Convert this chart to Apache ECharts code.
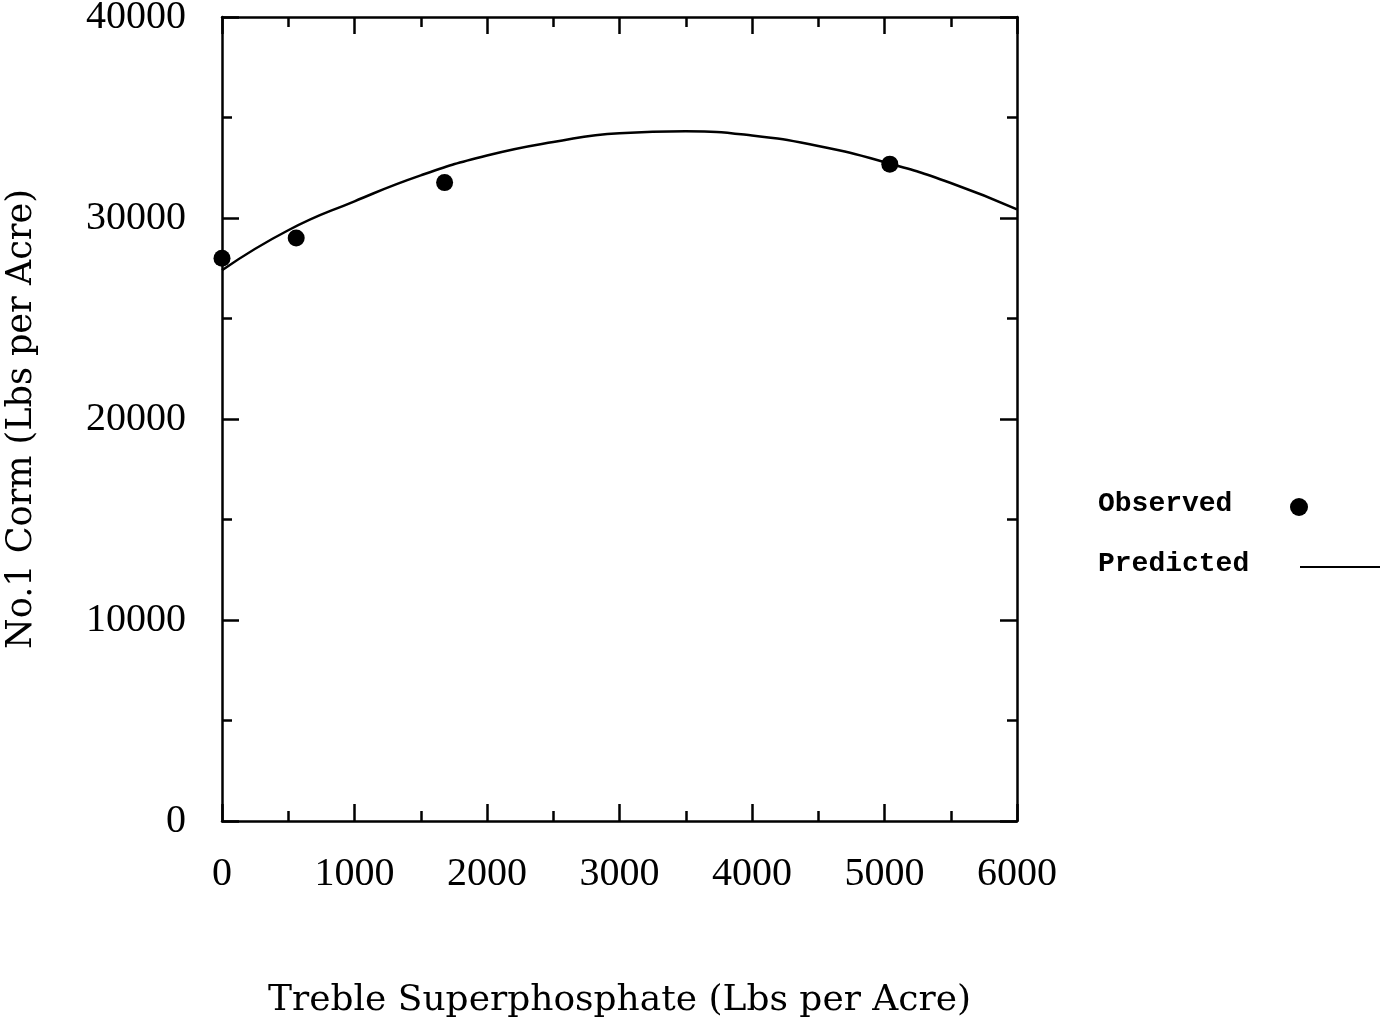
<!DOCTYPE html>
<html>
<head>
<meta charset="utf-8">
<script src="https://cdn.jsdelivr.net/npm/echarts@6/dist/echarts.min.js"></script>
<style>
  html, body { margin: 0; padding: 0; background: #fff; }
  #chart { width: 1383px; height: 1022px; }
</style>
</head>
<body>
<div id="chart"></div>
<script>
  // observed points
  var obsX = [0, 560, 1680, 5040];
  var obsY = [28000, 29000, 31760, 32680];
  var predX = [0, 500, 1000, 1500, 2000, 2500, 3000, 3500, 4000, 4500, 5000, 5500, 6000];
  var predY = [27400, 29390, 30830, 32120, 33110, 33780, 34220, 34310, 34110, 33580, 32780, 31740, 30430];

  var serif = 'Liberation Serif';
  var titleFont = 'DejaVu Serif';
  var mono = 'Liberation Mono';

  var obsData = obsX.map(function (x, i) { return [x, obsY[i]]; });
  var predData = predX.map(function (x, i) { return [x, predY[i]]; });

  var chart = echarts.init(document.getElementById('chart'));

  var lineStyle = {color: '#000', width: 2.5};
  function boxAxis(pos, show) {
    return {
      type: 'value',
      position: pos,
      axisLine: {show: true, onZero: false, lineStyle: lineStyle},
      axisTick: {show: true, inside: true, length: 17, lineStyle: {color: '#000', width: 2.5}},
      minorTick: {show: true, splitNumber: 2, length: 10, lineStyle: {color: '#000', width: 2.5}},
      splitLine: {show: false},
      axisLabel: {show: show, color: '#000', fontFamily: serif, fontSize: 40,
        formatter: function (v) { return String(v); }}
    };
  }

  var xBottom = boxAxis('bottom', true);
  xBottom.min = 0; xBottom.max = 6000; xBottom.interval = 1000;
  xBottom.axisLabel.margin = 33;
  xBottom.name = 'Treble Superphosphate (Lbs per Acre)';
  xBottom.nameLocation = 'middle';
  xBottom.nameGap = 162;
  xBottom.nameTextStyle = {color: '#000', fontFamily: titleFont, fontSize: 36};

  var xTop = boxAxis('top', false);
  xTop.min = 0; xTop.max = 6000; xTop.interval = 1000;

  var yLeft = boxAxis('left', true);
  yLeft.min = 0; yLeft.max = 40000; yLeft.interval = 10000;
  yLeft.axisLabel.margin = 36;
  yLeft.name = 'No.1 Corm (Lbs per Acre)';
  yLeft.nameLocation = 'middle';
  yLeft.nameRotate = 90;
  yLeft.nameGap = 183;
  yLeft.nameTextStyle = {color: '#000', fontFamily: titleFont, fontSize: 35};

  var yRight = boxAxis('right', false);
  yRight.min = 0; yRight.max = 40000; yRight.interval = 10000;

  chart.setOption({
    animation: false,
    backgroundColor: '#fff',
    grid: {left: 222, top: 17, right: 366, bottom: 201, containLabel: false, outerBoundsMode: 'none'},
    xAxis: [xBottom, xTop],
    yAxis: [yLeft, yRight],
    series: [
      {
        name: 'Predicted',
        type: 'line',
        data: predData,
        smooth: true,
        showSymbol: false,
        lineStyle: {color: '#000', width: 2.5}
      },
      {
        name: 'Observed',
        type: 'scatter',
        data: obsData,
        symbol: 'circle',
        symbolSize: 17,
        itemStyle: {color: '#000', opacity: 1}
      }
    ],
    graphic: [
      {type: 'text', left: 1098, top: 490, style: {text: 'Observed', fill: '#000', font: 'bold 28px ' + mono}},
      {type: 'circle', shape: {cx: 1299, cy: 507, r: 9}, style: {fill: '#000'}},
      {type: 'text', left: 1098, top: 550, style: {text: 'Predicted', fill: '#000', font: 'bold 28px ' + mono}},
      {type: 'line', shape: {x1: 1300, y1: 567, x2: 1380, y2: 567}, style: {stroke: '#000', lineWidth: 2}}
    ]
  });
</script>
</body>
</html>
